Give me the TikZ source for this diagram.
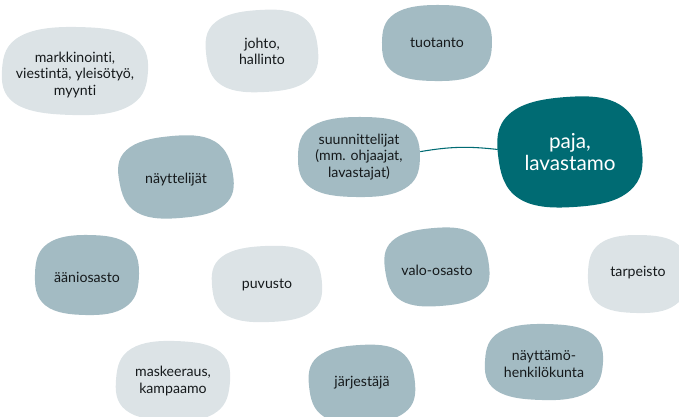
\documentclass[tikz,border=0pt]{standalone}
\usepackage{fontspec}
\setmainfont{Lato}[Ligatures={NoCommon,NoRare}]
\usetikzlibrary{positioning}

\definecolor{blobLight}{HTML}{DCE3E6}
\definecolor{blobMid}{HTML}{A3BBC3}
\definecolor{blobDark}{HTML}{006B73}
\definecolor{txtDark}{HTML}{15191B}

% blob: x, y, half width, half height, turn, style
\newcommand{\blob}[6]{%
  \fill[#6,shift={(#1,#2)},xscale=#3,yscale=#4,rotate=#5]
    plot[smooth cycle,tension=0.7] coordinates {(1,0.04) (0.78,0.76) (0.04,1) (-0.76,0.8) (-1,0.02) (-0.8,-0.74) (-0.02,-1) (0.77,-0.79)};}

\tikzset{
  light/.style={fill=blobLight},
  mid/.style={fill=blobMid},
  dark/.style={fill=blobDark},
  lbl/.style={align=center,text=txtDark,inner sep=0pt,font=\fontsize{10.6}{12.2}\selectfont},
  biglbl/.style={align=center,text=white,inner sep=0pt,font=\fontsize{15.5}{16.5}\selectfont},
}

\begin{document}
\begin{tikzpicture}[x=0.75pt,y=-0.75pt]
    \useasboundingbox (0,0) rectangle (679,417);

    % blobs
    \blob{75}{71}{73}{44}{-4}{light}
    \blob{262}{51}{56}{41}{3}{light}
    \blob{437}{43}{55}{38}{-2}{mid}
    \blob{570}{152}{72}{55}{4}{dark}
    \blob{359}{157}{61}{40}{-2}{mid}
    \blob{176}{177}{57}{41}{6}{mid}
    \blob{87}{275}{52}{40}{-3}{mid}
    \blob{267}{284}{55}{38}{2}{light}
    \blob{173}{381}{57}{40}{-5}{light}
    \blob{362}{384}{53}{39}{3}{mid}
    \blob{437}{267}{52}{39}{5}{mid}
    \blob{638}{274}{50}{39}{-3}{light}
    \blob{544}{362}{59}{38}{-4}{mid}

    % labels
    \node[lbl] (markkinointi) at (75,75) {markkinointi,\\viestintä, yleisötyö,\\myynti};
    \node[lbl] (johto) at (262,51) {johto,\\hallinto};
    \node[lbl] (tuotanto) at (437,43) {tuotanto};
    \node[biglbl,minimum width=108pt,minimum height=82pt] (paja) at (570,152) {paja,\\lavastamo};
    \node[lbl,minimum width=91.5pt,minimum height=60pt] (suunnittelijat) at (359,157) {suunnittelijat\\(mm. ohjaajat,\\lavastajat)};
    \node[lbl] (nayttelijat) at (176,180) {näyttelijät};
    \node[lbl] (aaniosasto) at (87,277) {ääniosasto};
    \node[lbl] (puvusto) at (267,285) {puvusto};
    \node[lbl] (maskeeraus) at (173,381) {maskeeraus,\\kampaamo};
    \node[lbl] (jarjestaja) at (362,383) {järjestäjä};
    \node[lbl] (valo) at (437,270) {valo-osasto};
    \node[lbl] (tarpeisto) at (638,273) {tarpeisto};
    \node[lbl] (nayttamo) at (544,364) {näyttämö-\\henkilökunta};

    \draw[blobDark,line width=0.8pt] (suunnittelijat.5) to[bend left=8] (paja.178);
\end{tikzpicture}
\end{document}
